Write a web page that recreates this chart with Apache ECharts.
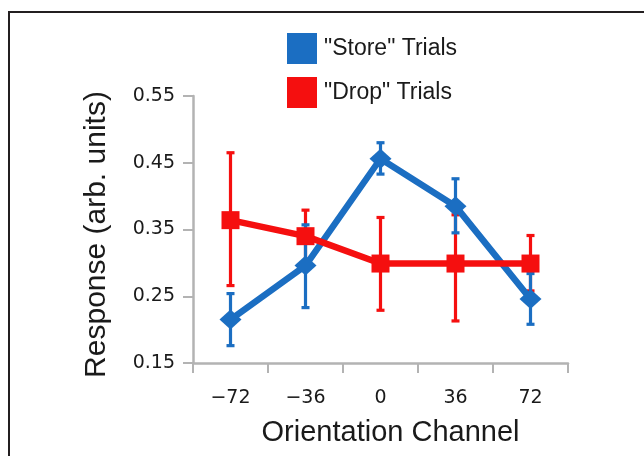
<!DOCTYPE html>
<html>
<head>
<meta charset="utf-8">
<script src="https://cdn.jsdelivr.net/npm/echarts@6/dist/echarts.min.js"></script>
<style>
html,body{margin:0;padding:0;background:#fff;}
#chart{width:644px;height:456px;}
</style>
</head>
<body>
<div id="chart"></div>
<script>
var categories = ['\u221272', '\u221236', '0', '36', '72'];
var yTicks = [0.15, 0.25, 0.35, 0.45, 0.55];
var storeMean = [0.215, 0.296, 0.456, 0.385, 0.246];
var storeLow  = [0.176, 0.233, 0.433, 0.345, 0.208];
var storeHigh = [0.254, 0.357, 0.480, 0.426, 0.284];
var dropMean  = [0.364, 0.340, 0.299, 0.299, 0.299];
var dropLow   = [0.266, 0.300, 0.229, 0.213, 0.258];
var dropHigh  = [0.465, 0.379, 0.368, 0.372, 0.341];
var seriesNames = ['"Store" Trials', '"Drop" Trials'];

var BLUE = '#1b6ec2';
var RED = '#f50f0f';

function errData(lo, hi) {
  return lo.map(function (v, i) { return [i, v, hi[i]]; });
}
function errRender(color) {
  return function (params, api) {
    var x = api.value(0);
    var lo = api.coord([x, api.value(1)]);
    var hi = api.coord([x, api.value(2)]);
    var hw = 4;
    var st = { stroke: color, lineWidth: 3.2 };
    return {
      type: 'group',
      children: [
        { type: 'line', shape: { x1: lo[0], y1: lo[1], x2: hi[0], y2: hi[1] }, style: st },
        { type: 'line', shape: { x1: hi[0] - hw, y1: hi[1], x2: hi[0] + hw, y2: hi[1] }, style: st },
        { type: 'line', shape: { x1: lo[0] - hw, y1: lo[1], x2: lo[0] + hw, y2: lo[1] }, style: st }
      ]
    };
  };
}

var chart = echarts.init(document.getElementById('chart'), null, { renderer: 'canvas' });
chart.setOption({
  animation: false,
  backgroundColor: '#ffffff',
  graphic: [{
    type: 'rect', silent: true,
    shape: { x: 9, y: 12, width: 700, height: 500 },
    style: { fill: 'none', stroke: '#231f20', lineWidth: 2 }
  }],
  legend: {
    orient: 'vertical', left: 282, top: 28,
    itemWidth: 30, itemHeight: 31, itemGap: 13,
    icon: 'rect',
    data: seriesNames,
    textStyle: { fontFamily: 'Liberation Sans', fontSize: 23, color: '#1a1a1a', padding: [0, 0, 0, 2] }
  },
  grid: { left: 193, right: 76, top: 96, bottom: 93 },
  xAxis: {
    type: 'category', data: categories, boundaryGap: true,
    name: 'Orientation Channel', nameLocation: 'middle', nameGap: 55,
    nameTextStyle: { fontFamily: 'Liberation Sans', fontSize: 29, color: '#1a1a1a', padding: [0, 0, 0, 20] },
    axisLine: { lineStyle: { color: '#b3b3b3', width: 2.5 } },
    axisTick: { show: true, alignWithLabel: false, length: 10, lineStyle: { color: '#b3b3b3', width: 2 } },
    axisLabel: { margin: 26, fontFamily: 'DejaVu Sans', fontSize: 19, color: '#1a1a1a' },
    splitLine: { show: false }
  },
  yAxis: {
    type: 'value', min: yTicks[0], max: yTicks[yTicks.length - 1], interval: 0.1,
    name: 'Response (arb. units)', nameLocation: 'middle', nameGap: 81, nameRotate: 90,
    nameTextStyle: { fontFamily: 'Liberation Sans', fontSize: 30, color: '#1a1a1a', padding: [0, 10, 0, 0] },
    axisLine: { show: true, lineStyle: { color: '#b3b3b3', width: 2.5 } },
    axisTick: { show: true, length: 10, lineStyle: { color: '#b3b3b3', width: 2 } },
    axisLabel: { margin: 18, fontFamily: 'DejaVu Sans', fontSize: 19, color: '#1a1a1a',
      formatter: function (v) { return v.toFixed(2); } },
    splitLine: { show: false }
  },
  series: [
    { type: 'custom', name: 'dropErr', z: 1, silent: true, renderItem: errRender(RED), data: errData(dropLow, dropHigh) },
    { type: 'custom', name: 'storeErr', z: 2, silent: true, renderItem: errRender(BLUE), data: errData(storeLow, storeHigh) },
    {
      type: 'line', name: seriesNames[0], z: 3, data: storeMean,
      symbol: 'diamond', symbolSize: [22, 20], showSymbol: true,
      lineStyle: { color: BLUE, width: 6.5 }, itemStyle: { color: BLUE, borderWidth: 0 },
      emphasis: { disabled: true }
    },
    {
      type: 'line', name: seriesNames[1], z: 4, data: dropMean,
      symbol: 'rect', symbolSize: 18, showSymbol: true,
      lineStyle: { color: RED, width: 6.5 }, itemStyle: { color: RED, borderWidth: 0 },
      emphasis: { disabled: true }
    }
  ]
});
</script>
</body>
</html>
